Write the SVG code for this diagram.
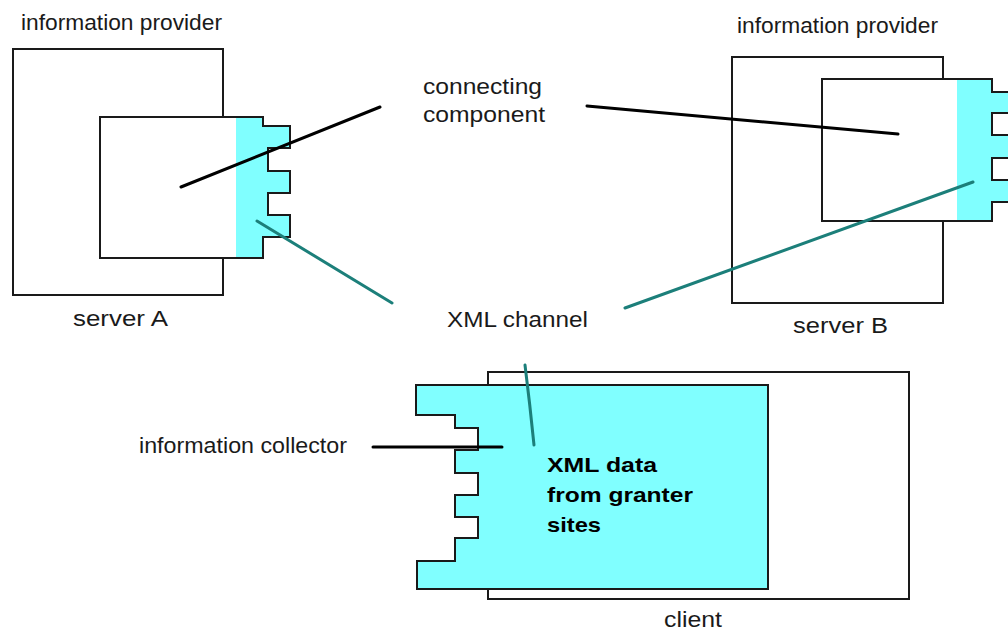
<svg xmlns="http://www.w3.org/2000/svg" width="1008" height="630" viewBox="0 0 1008 630">
<style>
.box{fill:#fff;stroke:#1a1a1a;stroke-width:2}
.outline{fill:none;stroke:#1a1a1a;stroke-width:2}
.cyan{fill:#80ffff;stroke:none}
.t{font-family:"Liberation Sans",Arial,sans-serif;font-size:22px;fill:#1a1a1a}
.b{font-family:"Liberation Sans",Arial,sans-serif;font-size:21px;font-weight:bold;fill:#000}
.blk{stroke:#000;stroke-width:3;fill:none;stroke-linecap:round}
.teal{stroke:#1c7f7a;stroke-width:3;fill:none;stroke-linecap:round}
</style>
<rect width="1008" height="630" fill="#fff"/>

<g id="serverA">
<rect class="box" x="13" y="49" width="210" height="246"/>
<rect x="100" y="117" width="136" height="141" fill="#fff"/>
<path class="cyan" d="M236,117 H263 V126 H290 V148 H268 V171 H290 V193 H268 V215 H290 V237 H263 V258 H236 Z"/>
<path class="outline" d="M100,117 H263 V126 H290 V148 H268 V171 H290 V193 H268 V215 H290 V237 H263 V258 H100 Z"/>
<text class="t" x="21" y="30" textLength="201" lengthAdjust="spacingAndGlyphs">information provider</text>
<text class="t" x="73" y="326" textLength="95" lengthAdjust="spacingAndGlyphs">server A</text>
</g>

<g id="serverB">
<rect class="box" x="732" y="57" width="211" height="246"/>
<rect x="822" y="79" width="135" height="142" fill="#fff"/>
<path class="cyan" d="M957,79 H992 V92 H1020 V113 H992 V135 H1020 V158 H992 V180 H1020 V202 H992 V221 H957 Z"/>
<path class="outline" d="M1020,202 H992 V221 H822 V79 H992 V92 H1020 M1020,113 H992 V135 H1020 M1020,158 H992 V180 H1020"/>
<text class="t" x="737" y="33" textLength="201" lengthAdjust="spacingAndGlyphs">information provider</text>
<text class="t" x="793" y="333" textLength="95" lengthAdjust="spacingAndGlyphs">server B</text>
</g>

<g id="client">
<rect class="box" x="488" y="372" width="421" height="227"/>
<path class="cyan" d="M416,385 H768 V589 H417 V561 H455 V538 H478 V517 H455 V495 H478 V473 H455 V450 H478 V428 H455 V415 H416 Z"/>
<path class="outline" d="M416,385 H768 V589 H417 V561 H455 V538 H478 V517 H455 V495 H478 V473 H455 V450 H478 V428 H455 V415 H416 Z"/>
<text class="b" x="547" y="472" textLength="110" lengthAdjust="spacingAndGlyphs">XML data</text>
<text class="b" x="547" y="502" textLength="146" lengthAdjust="spacingAndGlyphs">from granter</text>
<text class="b" x="547" y="532" textLength="54" lengthAdjust="spacingAndGlyphs">sites</text>
<text class="t" x="664" y="627" textLength="58" lengthAdjust="spacingAndGlyphs">client</text>
</g>

<g id="labels">
<text class="t" x="423" y="94" textLength="119" lengthAdjust="spacingAndGlyphs">connecting</text>
<text class="t" x="423" y="122" textLength="122" lengthAdjust="spacingAndGlyphs">component</text>
<text class="t" x="447" y="327" font-size="23" textLength="141" lengthAdjust="spacingAndGlyphs">XML channel</text>
<text class="t" x="139" y="453" font-size="23" textLength="208" lengthAdjust="spacingAndGlyphs">information collector</text>
</g>

<g id="connectors">
<line class="blk" x1="181" y1="187" x2="380" y2="107"/>
<line class="blk" x1="587" y1="106" x2="898" y2="134"/>
<line class="blk" x1="373" y1="447" x2="502" y2="447"/>
<line class="teal" x1="257" y1="221" x2="392" y2="303"/>
<line class="teal" x1="625" y1="308" x2="973" y2="182"/>
<path class="teal" d="M525,365 Q530,405 534,445"/>
</g>
</svg>
